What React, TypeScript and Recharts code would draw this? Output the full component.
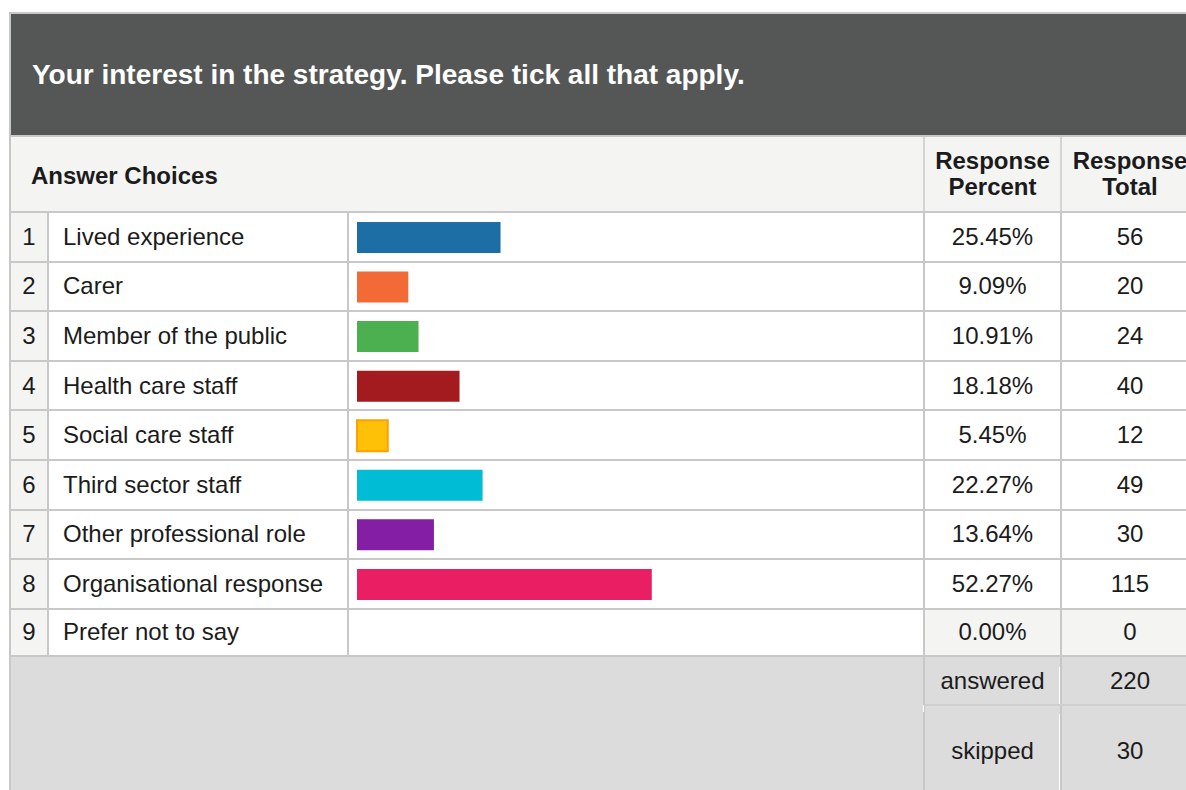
import { BarChart, Bar, XAxis, YAxis, Cell } from 'recharts'

const title = 'Your interest in the strategy. Please tick all that apply.'
const choices = [
  'Lived experience',
  'Carer',
  'Member of the public',
  'Health care staff',
  'Social care staff',
  'Third sector staff',
  'Other professional role',
  'Organisational response',
  'Prefer not to say',
]
const percents = [25.45, 9.09, 10.91, 18.18, 5.45, 22.27, 13.64, 52.27, 0]
const totals = [56, 20, 24, 40, 12, 49, 30, 115, 0]
const barColors = ['#1c6ea4', '#f26a35', '#4caf50', '#a31b1e', '#ffc107', '#00bcd4', '#831ea5', '#e91e63', '#9e9e9e']
const answered = 220
const skipped = 30

const LINE = '#c8c8c8'
const LIGHT = '#f4f4f3'
const TEXT = '#1b1b1b'
const ROW_H = 49.6

const data = choices.map((name, i) => ({ name, pct: percents[i] }))

export default function App() {
  const cellText: React.CSSProperties = {
    display: 'flex',
    alignItems: 'center',
    fontSize: 24,
    color: TEXT,
    boxSizing: 'border-box',
  }
  const vline = (x: number, top: number, h: number, color = LINE) => (
    <div style={{ position: 'absolute', left: x, top, width: 2, height: h, background: color }} />
  )

  return (
    <div
      style={{
        position: 'fixed',
        left: 0,
        top: 0,
        width: 1186,
        height: 790,
        overflow: 'hidden',
        background: '#fff',
        fontFamily: '"Liberation Sans", Arial, sans-serif',
      }}
    >
      {/* outer border */}
      <div
        style={{
          position: 'absolute',
          left: 9,
          top: 12,
          width: 1300,
          height: 900,
          borderLeft: `2px solid ${LINE}`,
          borderTop: `2px solid ${LINE}`,
        }}
      />

      {/* title bar */}
      <div
        style={{
          position: 'absolute',
          left: 11,
          top: 14,
          width: 1300,
          height: 121,
          background: '#555756',
          display: 'flex',
          alignItems: 'center',
          boxSizing: 'border-box',
          paddingLeft: 21,
          color: '#fff',
          fontWeight: 'bold',
          fontSize: 28,
        }}
      >
        {title}
      </div>
      <div style={{ position: 'absolute', left: 11, top: 135, width: 1300, height: 2, background: LINE }} />

      {/* column header row */}
      <div style={{ position: 'absolute', left: 11, top: 137, width: 1300, height: 74, background: LIGHT }} />
      <div style={{ ...cellText, position: 'absolute', left: 31, top: 139, height: 74, fontWeight: 'bold' }}>
        Answer Choices
      </div>
      {vline(923, 137, 74, '#d4d4d4')}
      {vline(1060, 137, 74, '#d4d4d4')}
      {[
        ['Response', 'Percent', 925, 135],
        ['Response', 'Total', 1062, 136],
      ].map(([a, b, x, w]) => (
        <div
          key={String(b)}
          style={{
            ...cellText,
            position: 'absolute',
            left: x as number,
            top: 137,
            width: w as number,
            height: 74,
            justifyContent: 'center',
            textAlign: 'center',
            fontWeight: 'bold',
            lineHeight: '26px',
          }}
        >
          {a}
          <br />
          {b}
        </div>
      ))}
      <div style={{ position: 'absolute', left: 11, top: 211, width: 1300, height: 2, background: LINE }} />

      {/* data rows */}
      {choices.map((name, i) => {
        const last = i === choices.length - 1
        const h = last ? 47.2 : ROW_H
        return (
          <div
            key={name}
            style={{
              position: 'absolute',
              left: 11,
              top: 213 + i * ROW_H,
              height: h,
              width: 1300,
              display: 'flex',
              borderBottom: `2px solid ${LINE}`,
              boxSizing: 'border-box',
            }}
          >
            <div style={{ ...cellText, width: 36, background: LIGHT, justifyContent: 'center' }}>{i + 1}</div>
            <div style={{ width: 2, background: LINE }} />
            <div style={{ ...cellText, width: 298, paddingLeft: 14 }}>{name}</div>
            <div style={{ width: 2, background: LINE }} />
            <div style={{ width: 574 }} />
            <div style={{ width: 2, background: LINE }} />
            <div style={{ ...cellText, width: 135, justifyContent: 'center', background: last ? LIGHT : '#fff' }}>
              {percents[i].toFixed(2)}%
            </div>
            <div style={{ width: 2, background: LINE }} />
            <div style={{ ...cellText, width: 136, justifyContent: 'center', background: last ? LIGHT : '#fff' }}>
              {totals[i]}
            </div>
          </div>
        )
      })}

      {/* bars */}
      <div style={{ position: 'absolute', left: 348, top: 213 }}>
        <BarChart
          width={575}
          height={Math.round(ROW_H * choices.length)}
          data={data}
          layout="vertical"
          margin={{ top: 0, right: 2, left: 9, bottom: 0 }}
          barCategoryGap={0}
        >
          <XAxis type="number" domain={[0, 100]} hide />
          <YAxis type="category" dataKey="name" hide width={0} />
          <Bar dataKey="pct" barSize={31} isAnimationActive={false}>
            {data.map((d, i) => (
              <Cell
                key={d.name}
                fill={barColors[i]}
                stroke={i === 4 ? '#ffa000' : 'none'}
                strokeWidth={i === 4 ? 2 : 0}
              />
            ))}
          </Bar>
        </BarChart>
      </div>

      {/* footer */}
      <div style={{ position: 'absolute', left: 11, top: 657, width: 1300, height: 200, background: '#dcdcdc' }} />
      {vline(923, 657, 200)}
      {vline(1060, 657, 200)}
      <div style={{ position: 'absolute', left: 925, top: 704, width: 400, height: 2, background: '#cfcfcf' }} />
      <div style={{ position: 'absolute', left: 1059, top: 667, width: 1, height: 37, background: '#fff' }} />
      <div style={{ position: 'absolute', left: 1059, top: 714, width: 1, height: 90, background: '#fff' }} />
      <div style={{ position: 'absolute', left: 923, top: 705, width: 1, height: 7, background: '#fff' }} />
      {[
        ['answered', answered, 657, 47],
        ['skipped', skipped, 706, 90],
      ].map(([label, val, top, h]) => (
        <div key={String(label)}>
          <div
            style={{
              ...cellText,
              position: 'absolute',
              left: 925,
              top: top as number,
              width: 135,
              height: h as number,
              justifyContent: 'center',
            }}
          >
            {label}
          </div>
          <div
            style={{
              ...cellText,
              position: 'absolute',
              left: 1062,
              top: top as number,
              width: 136,
              height: h as number,
              justifyContent: 'center',
            }}
          >
            {val}
          </div>
        </div>
      ))}
    </div>
  )
}
